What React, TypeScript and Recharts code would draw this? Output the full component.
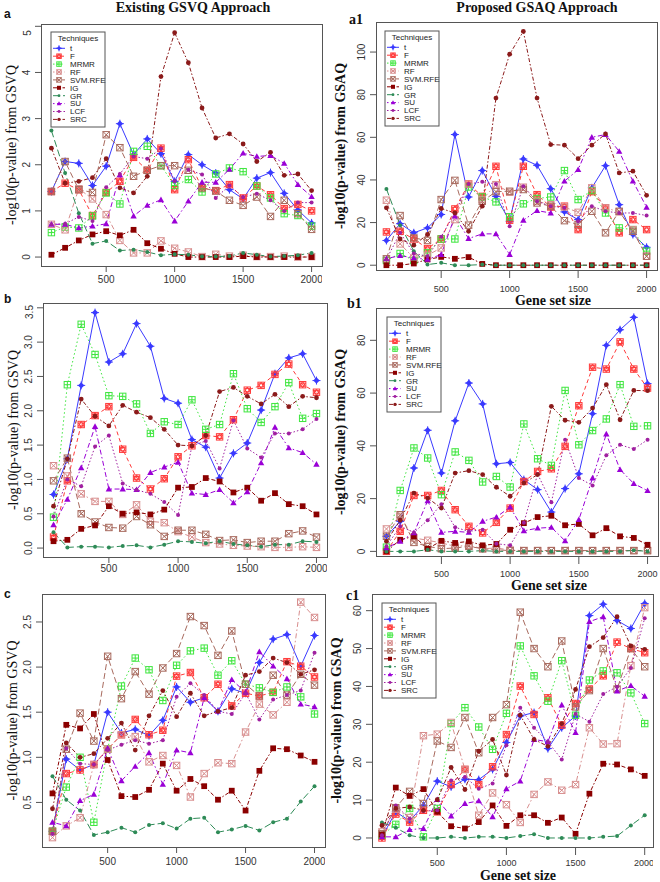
import React from 'react'
import { LineChart, Line, XAxis, YAxis } from 'recharts'

const sizes = [100, 200, 300, 400, 500, 600, 700, 800, 900, 1000, 1100, 1200, 1300, 1400, 1500, 1600, 1700, 1800, 1900, 2000]
const techniques = ['t', 'F', 'MRMR', 'RF', 'SVM_RFE', 'IG', 'GR', 'SU', 'LCF', 'SRC']
const techniqueNames = ['t', 'F', 'MRMR', 'RF', 'SVM.RFE', 'IG', 'GR', 'SU', 'LCF', 'SRC']
const xTicks = [500, 1000, 1500, 2000]

// a: existing GSVQ
const gsvqA: Record<string, number[]> = {
  t: [1.42, 2.07, 2.03, 1.55, 1.97, 2.89, 2.22, 2.56, 2.24, 1.64, 2.22, 2.0, 1.82, 1.46, 1.26, 1.71, 1.83, 1.38, 1.02, 0.74],
  F: [1.42, 1.6, 1.46, 0.9, 1.4, 1.64, 2.16, 1.88, 2.36, 1.46, 2.11, 1.5, 1.44, 1.57, 1.28, 1.54, 1.35, 1.05, 1.14, 1.0],
  MRMR: [0.53, 0.65, 0.63, 0.89, 1.39, 1.15, 2.29, 2.4, 1.98, 1.55, 1.68, 1.41, 1.8, 1.93, 1.85, 1.54, 1.28, 0.94, 0.9, 0.67],
  RF: [0.71, 0.59, 1.48, 1.26, 0.92, 0.36, 0.09, 0.09, 0.35, 0.19, 0.11, 0.01, 0.06, 0.02, 0.04, 0.01, 0.01, 0.02, 0.0, 0.01],
  SVM_RFE: [1.42, 2.07, 1.46, 1.4, 2.65, 2.37, 1.75, 1.88, 1.98, 1.98, 1.88, 1.5, 1.43, 1.23, 1.12, 1.3, 0.88, 1.23, 0.94, 0.6],
  IG: [0.05, 0.2, 0.36, 0.49, 0.56, 0.47, 0.59, 0.3, 0.18, 0.07, 0.0, 0.0, 0.0, 0.0, 0.02, 0.0, 0.0, 0.0, 0.0, 0.0],
  GR: [2.74, 1.82, 0.95, 0.29, 0.35, 0.14, 0.16, 0.11, 0.04, 0.06, 0.05, 0.01, 0.01, 0.02, 0.09, 0.05, 0.01, 0.02, 0.04, 0.09],
  SU: [0.71, 0.71, 0.63, 0.67, 0.72, 1.78, 0.89, 1.12, 1.24, 0.78, 1.21, 1.62, 1.62, 1.9, 2.25, 2.18, 2.2, 2.03, 1.57, 1.31],
  LCF: [0.71, 0.72, 0.87, 0.78, 1.51, 1.8, 2.18, 2.13, 2.35, 1.64, 1.89, 1.79, 1.28, 1.55, 1.3, 1.37, 1.23, 1.0, 1.18, 1.18],
  SRC: [2.36, 1.6, 1.64, 1.72, 2.13, 1.5, 1.39, 1.75, 3.91, 4.86, 4.21, 3.23, 2.58, 2.67, 2.45, 2.07, 2.27, 1.77, 1.8, 1.44],
}

// a1: proposed GSAQ
const gsaqA: Record<string, number[]> = {
  t: [11.6, 19.5, 15.2, 17.5, 23.8, 61.3, 32, 44.4, 32.3, 20.6, 49.8, 46.9, 35.9, 25, 21.4, 36.3, 46.7, 28.4, 14.4, 8.4],
  F: [15.6, 15.9, 12.3, 7.8, 12.3, 26.4, 38.1, 32.3, 46.4, 21.1, 46.4, 33.1, 27.3, 27.7, 16.7, 34.5, 26.9, 15.2, 21.4, 16.7],
  MRMR: [2.2, 5.5, 2.2, 5.8, 12.3, 12.3, 36.7, 32, 29.7, 22.7, 28.8, 31.3, 32, 44.4, 30.8, 35, 24.5, 17.5, 16.7, 6.6],
  RF: [30.5, 10, 3.4, 4.7, 8.1, 21.4, 38.1, 30.8, 37.8, 34.2, 36.6, 30, 28.4, 27.3, 24.8, 36.3, 26.9, 25, 16.7, 4.2],
  SVM_RFE: [3, 23.3, 12.8, 11.6, 30.8, 39.8, 18.8, 30, 34.5, 34.7, 35.5, 29.2, 27.7, 20.9, 19.1, 25.3, 15.2, 25.3, 15.9, 4.2],
  IG: [0, 0, 0.8, 2.7, 3.9, 3.0, 3.8, 0.6, 0, 0, 0, 0, 0, 0, 0, 0, 0, 0, 0, 0],
  GR: [35.8, 18.8, 6.6, 0.3, 1.1, 0, 0, 0.3, 0, 0, 0, 0, 0, 0, 0, 0, 0, 0, 0, 0],
  SU: [3.1, 4.5, 3.4, 2.7, 5, 23, 12.5, 14.7, 14.7, 5, 21.1, 25.6, 24.5, 39.4, 44.8, 60, 61.3, 53.4, 39.4, 27.2],
  LCF: [2.7, 15.2, 5.5, 4.2, 13.3, 24.5, 38.1, 39.1, 38.1, 18.3, 37, 30, 27.7, 26.9, 20.6, 27.7, 25.3, 24.5, 24.5, 23.3],
  SRC: [26.9, 12.3, 9.4, 14.4, 26.6, 24.5, 15.9, 27.7, 78.4, 99, 109.7, 78.4, 56.6, 56.3, 50, 56.3, 61.6, 43.3, 44.1, 32.8],
}

// b: existing GSVQ
const gsvqB: Record<string, number[]> = {
  t: [0.78, 1.3, 2.37, 3.43, 2.71, 2.83, 3.27, 2.94, 2.18, 2.11, 1.58, 1.47, 1.02, 1.38, 1.53, 2.01, 2.54, 2.77, 2.83, 2.44],
  F: [0.16, 0.98, 1.8, 1.93, 2.06, 1.44, 1.02, 0.86, 1.01, 1.33, 1.49, 1.64, 1.62, 1.87, 2.3, 2.37, 2.53, 2.68, 2.38, 2.27],
  MRMR: [0.45, 2.38, 3.26, 2.82, 2.22, 2.21, 2.1, 1.67, 1.84, 1.8, 2.16, 1.73, 1.8, 2.54, 2.03, 1.83, 2.06, 2.41, 1.89, 1.96],
  RF: [1.2, 1.05, 0.79, 0.68, 0.68, 0.49, 0.63, 0.39, 0.37, 0.24, 0.16, 0.08, 0.06, 0.04, 0.03, 0.02, 0.01, 0.01, 0.02, 0.01],
  SVM_RFE: [0.98, 1.31, 0.5, 0.38, 0.3, 0.29, 0.46, 0.34, 0.17, 0.26, 0.26, 0.2, 0.11, 0.12, 0.08, 0.1, 0.1, 0.21, 0.25, 0.16],
  IG: [0.1, 0.12, 0.28, 0.33, 0.61, 0.5, 0.52, 0.49, 0.56, 0.88, 0.89, 1.02, 0.97, 0.81, 0.88, 0.69, 0.8, 0.64, 0.61, 0.49],
  GR: [0.23, 0.01, 0.02, 0.02, 0.01, 0.03, 0.04, 0.01, 0.05, 0.1, 0.09, 0.07, 0.1, 0.06, 0.04, 0.02, 0.05, 0.05, 0.1, 0.09],
  SU: [0.34, 0.71, 1.17, 1.77, 0.86, 0.86, 0.85, 1.1, 1.18, 1.25, 0.8, 0.78, 0.85, 0.66, 0.82, 1.24, 1.76, 1.46, 1.39, 1.22],
  LCF: [0.46, 1.0, 0.9, 1.48, 1.64, 0.94, 0.85, 0.79, 0.67, 0.48, 1.49, 1.56, 1.16, 1.86, 1.45, 1.32, 1.67, 1.67, 1.73, 1.88],
  SRC: [0.61, 1.3, 2.17, 1.92, 1.78, 2.08, 1.98, 1.9, 1.73, 1.5, 1.49, 1.64, 2.28, 2.34, 2.21, 2.1, 2.24, 2.06, 2.21, 2.19],
}

// b1: proposed GSAQ
const gsaqB: Record<string, number[]> = {
  t: [5.7, 11.4, 31.6, 45.9, 29.7, 49.5, 63.8, 55.9, 33.2, 33.7, 27.2, 23.4, 14.9, 23.8, 29.4, 52.2, 78.1, 84, 88.7, 63.6],
  F: [0, 7.6, 21.2, 21.2, 23.1, 15.8, 9.5, 7, 11, 16.4, 26.5, 30.3, 31.3, 39.8, 55.2, 69.8, 69.1, 79.4, 69.1, 61.9],
  MRMR: [1.6, 23.1, 39.2, 35.4, 21.5, 37.7, 34.5, 26.3, 28.4, 24.4, 48.3, 35.1, 32.6, 61, 40.4, 45.8, 50.2, 63.2, 47.4, 47.6],
  RF: [8.5, 13.3, 5.1, 4.2, 3.2, 1.9, 2.3, 1, 1.3, 0.5, 0.3, 0.3, 0.3, 0.3, 0.3, 0.3, 0.3, 0.3, 0.3, 0.3],
  SVM_RFE: [5.7, 13.9, 3.4, 1.9, 1, 1.3, 1.9, 1, 0.6, 0.3, 0.3, 0.3, 0.3, 0.3, 0.3, 0.3, 0.3, 0.3, 0.3, 0.3],
  IG: [0, 4.4, 5.7, 1, 4, 3.2, 3.8, 2.3, 2.8, 8.2, 10.7, 13, 13.5, 9.9, 10.4, 6.1, 8.8, 5.7, 5.1, 2.5],
  GR: [0, 0, 0, 0.6, 0, 0, 0, 0.3, 0, 0, 0, 0, 0, 0, 0, 0, 0, 0, 0.4, 0],
  SU: [1.3, 3.8, 7, 19.2, 7.2, 7.6, 7.2, 11.4, 13, 16.8, 7.8, 8.8, 9.1, 4, 12, 27.8, 44.5, 31, 25.7, 23],
  LCF: [1.9, 9.5, 7.2, 11.8, 17.9, 9.1, 7.6, 8.2, 2.9, 2.3, 10.9, 29.3, 18.6, 42.3, 27.8, 25, 36.4, 40.4, 38.8, 42.3],
  SRC: [3.8, 11.8, 22.1, 20.2, 16.4, 29.7, 30.6, 29.1, 24.3, 20.9, 25.9, 29.1, 55, 49.7, 48.9, 54.3, 63.2, 49.9, 61, 60.9],
}

// c: existing GSVQ
const gsvqC: Record<string, number[]> = {
  t: [0.18, 0.98, 0.86, 0.92, 1.5, 1.27, 1.31, 1.24, 1.41, 1.78, 1.61, 1.66, 1.51, 1.76, 1.71, 2.05, 2.31, 2.36, 2.01, 2.35],
  F: [0.18, 0.82, 0.86, 0.92, 1.09, 1.25, 1.42, 1.25, 1.3, 1.9, 1.94, 1.66, 1.81, 1.57, 1.71, 1.68, 1.72, 2.06, 2.01, 1.89],
  MRMR: [0.18, 0.67, 1.0, 0.28, 1.09, 1.79, 2.1, 1.97, 1.63, 2.02, 2.18, 2.21, 1.91, 2.07, 1.81, 1.77, 1.72, 1.78, 1.67, 1.48],
  RF: [0.11, 0.24, 0.33, 0.92, 1.09, 1.25, 1.23, 0.95, 1.02, 0.91, 0.56, 0.82, 0.94, 0.93, 1.28, 1.59, 1.47, 1.61, 2.72, 2.55],
  SVM_RFE: [0.18, 1.09, 1.49, 1.18, 2.12, 1.65, 1.95, 1.7, 1.99, 2.15, 2.56, 2.46, 2.13, 2.4, 1.81, 1.68, 1.91, 1.69, 1.92, 1.8],
  IG: [0.6, 1.36, 1.32, 1.48, 0.97, 0.57, 0.56, 0.64, 0.93, 0.63, 0.76, 0.68, 0.53, 0.63, 0.41, 0.85, 1.1, 1.09, 1.02, 0.95],
  GR: [0.79, 0.53, 0.41, 0.14, 0.17, 0.22, 0.17, 0.25, 0.27, 0.21, 0.32, 0.33, 0.17, 0.2, 0.24, 0.19, 0.28, 0.32, 0.51, 0.68],
  SU: [0.28, 0.24, 0.52, 0.59, 1.1, 0.74, 0.9, 1.05, 0.7, 1.08, 1.05, 1.66, 1.51, 1.86, 1.72, 2.17, 2.01, 1.87, 1.59, 1.56],
  LCF: [0.15, 1.1, 0.93, 0.92, 1.08, 1.14, 1.19, 1.15, 1.19, 1.67, 1.82, 1.69, 1.51, 1.48, 1.71, 1.42, 1.64, 1.69, 1.74, 2.16],
  SRC: [0.43, 1.16, 1.0, 1.04, 1.21, 1.38, 1.08, 1.46, 1.74, 1.45, 1.71, 1.46, 1.51, 1.55, 1.91, 1.95, 2.1, 2.05, 1.92, 1.97],
}

// c1: proposed GSAQ
const gsaqC: Record<string, number[]> = {
  t: [0.3, 6.9, 4.5, 8.6, 15, 13.5, 15.5, 15.4, 18.1, 25.2, 32.2, 33.1, 23.6, 29.1, 32.2, 58.7, 61.7, 57.4, 55.3, 61.9],
  F: [0, 6.3, 4.2, 7.3, 6.9, 14.1, 18.1, 14.1, 18.8, 27.3, 40.1, 32.6, 37, 29.8, 35.5, 39.3, 42.8, 51.7, 50, 48.9],
  MRMR: [0.7, 3.6, 7.8, 0.3, 7.8, 30.2, 34.4, 29.3, 23.4, 32.9, 50.7, 42.8, 36.1, 46.8, 32.4, 41.7, 44.1, 43.6, 38.3, 30.2],
  RF: [1.6, 7.6, 5.4, 27, 27.4, 30.5, 18.1, 6, 11.9, 8.8, 4.1, 11.5, 14.8, 12.6, 14.1, 29.1, 24.8, 24.9, 45.5, 60.8],
  SVM_RFE: [1.1, 8, 12.3, 9.1, 25.6, 23.9, 31.8, 22.5, 31.8, 35.2, 59.6, 50, 45.2, 52, 34.6, 38.9, 50, 39.3, 50, 45.2],
  IG: [0.9, 13.3, 11.1, 12.9, 6.9, 3.1, 2.5, 4.2, 8.6, 3.2, 6, 6, 4, 5.4, 1.1, 11.7, 19.6, 19.4, 18.1, 16.4],
  GR: [4.1, 2.7, 0.7, 0, 0, 0.3, 0, 0.3, 0.3, 0, 0.5, 1, 0, 0, 0, 0, 0.3, 0.5, 3.3, 6],
  SU: [0.3, 0.3, 2.2, 2.5, 10.1, 5.8, 9.1, 9.8, 5.6, 13, 15, 26, 25.4, 35.1, 27.8, 57.1, 58.4, 38.8, 40.2, 37.4],
  LCF: [0.7, 8.6, 5.1, 7.1, 7.3, 15.2, 16.1, 13, 14.4, 24.5, 34.4, 29.1, 25.4, 20.7, 32.7, 30.7, 38, 39.9, 44.9, 58],
  SRC: [3.3, 7.8, 8.2, 7.3, 10.1, 18.6, 12.8, 22.9, 26, 16.6, 32.4, 26, 24.2, 30.2, 39.2, 50.5, 52.9, 58.4, 50.7, 49.8],
}

const serif = '"Liberation Serif", "DejaVu Serif", serif'
const sans = '"Liberation Sans", Arial, sans-serif'

const look: Record<string, { color: string; dash?: string; mark: string }> = {
  t: { color: '#3a3aff', mark: 'plus' },
  F: { color: '#ff3a3a', dash: '4 3', mark: 'star' },
  MRMR: { color: '#3ee63e', dash: '1.5 2.5', mark: 'sqplus' },
  RF: { color: '#d88e8e', dash: '1.5 2.5 5 2.5', mark: 'sqx' },
  SVM_RFE: { color: '#a86a5e', dash: '6 3', mark: 'sqx' },
  IG: { color: '#8b0000', dash: '4 2 1.5 2', mark: 'square' },
  GR: { color: '#2e8b57', dash: '7 3', mark: 'dot' },
  SU: { color: '#9a00d6', dash: '1.5 2.5 5 2.5', mark: 'tri' },
  LCF: { color: '#a020a0', dash: '1.5 2', mark: 'dot' },
  SRC: { color: '#8b1a1a', dash: '4 2 1.5 2', mark: 'circle' },
}

function Mark({ x, y, k, s = 1 }: { x: number; y: number; k: string; s?: number }) {
  const c = look[k].color
  const r = 3.2 * s
  switch (look[k].mark) {
    case 'plus':
      return (
        <g>
          <polygon points={`${x},${y - r} ${x + r},${y} ${x},${y + r} ${x - r},${y}`} fill={c} />
          <path d={`M${x - r - 0.8},${y}H${x + r + 0.8}M${x},${y - r - 0.8}V${y + r + 0.8}`} stroke={c} strokeWidth={1} />
        </g>
      )
    case 'star':
      return (
        <g fill="none" stroke={c} strokeWidth={1}>
          <rect x={x - r} y={y - r} width={2 * r} height={2 * r} />
          <path d={`M${x},${y - r}L${x + r * 0.87},${y + r * 0.5}L${x - r * 0.87},${y + r * 0.5}ZM${x},${y + r}L${x + r * 0.87},${y - r * 0.5}L${x - r * 0.87},${y - r * 0.5}Z`} />
        </g>
      )
    case 'sqplus':
      return (
        <g fill="none" stroke={c} strokeWidth={1}>
          <rect x={x - r} y={y - r} width={2 * r} height={2 * r} />
          <path d={`M${x - r},${y}H${x + r}M${x},${y - r}V${y + r}`} />
        </g>
      )
    case 'sqx':
      return (
        <g fill="none" stroke={c} strokeWidth={1}>
          <rect x={x - r} y={y - r} width={2 * r} height={2 * r} />
          <path d={`M${x - r},${y - r}L${x + r},${y + r}M${x + r},${y - r}L${x - r},${y + r}`} />
        </g>
      )
    case 'square':
      return <rect x={x - r * 0.9} y={y - r * 0.9} width={1.8 * r} height={1.8 * r} fill={c} />
    case 'tri':
      return <polygon points={`${x},${y - r} ${x + r},${y + r * 0.75} ${x - r},${y + r * 0.75}`} fill={c} />
    case 'circle':
      return <circle cx={x} cy={y} r={2.4 * s} fill={c} />
    default:
      return <circle cx={x} cy={y} r={2 * s} fill={c} />
  }
}

interface Panel {
  id: string
  values: Record<string, number[]>
  left: number
  top: number
  w: number
  h: number
  xDomain: [number, number]
  yDomain: [number, number]
  yTicks: number[]
  digits: number
  yLabel: string
  bold: boolean
  tickGap: number
  legend?: [number, number]
}

const panels: Panel[] = [
  { id: 'a', values: gsvqA, left: 41, top: 24, w: 281, h: 242, xDomain: [24, 2076], yDomain: [-0.194, 5.05], yTicks: [0, 1, 2, 3, 4, 5], digits: 0, yLabel: '-log10(p-value) from GSVQ', bold: false, tickGap: 4, legend: [51, 32] },
  { id: 'a1', values: gsaqA, left: 376, top: 22, w: 281, h: 248, xDomain: [24, 2076], yDomain: [-2.25, 114.1], yTicks: [0, 20, 40, 60, 80, 100], digits: 0, yLabel: '-log10(p-value) from GSAQ', bold: true, tickGap: 8, legend: [385, 31] },
  { id: 'b', values: gsvqB, left: 43, top: 303, w: 284, h: 254, xDomain: [24, 2076], yDomain: [-0.13, 3.57], yTicks: [0, 0.5, 1, 1.5, 2, 2.5, 3, 3.5], digits: 1, yLabel: '-log10(p-value) from GSVQ', bold: false, tickGap: 2 },
  { id: 'b1', values: gsaqB, left: 376, top: 308, w: 282, h: 248, xDomain: [24, 2076], yDomain: [-1.75, 92.25], yTicks: [0, 20, 40, 60, 80], digits: 0, yLabel: '-log10(p-value) from GSAQ', bold: true, tickGap: 7, legend: [387, 317] },
  { id: 'c', values: gsvqC, left: 42, top: 594, w: 283, h: 253, xDomain: [24, 2076], yDomain: [0.006, 2.81], yTicks: [0.5, 1, 1.5, 2, 2.5], digits: 1, yLabel: '-log10(p-value) from GSVQ', bold: false, tickGap: 5 },
  { id: 'c1', values: gsaqC, left: 372, top: 594, w: 281, h: 253, xDomain: [28, 2060], yDomain: [-2.38, 64.4], yTicks: [0, 10, 20, 30, 40, 50, 60], digits: 0, yLabel: '-log10(p-value) from GSAQ', bold: true, tickGap: 5, legend: [382, 603] },
]

const AXW = 40
const AXH = 30

function PanelChart({ p }: { p: Panel }) {
  const data = sizes.map((size, i) => {
    const row: Record<string, number> = { size }
    techniques.forEach((k) => (row[k] = p.values[k][i]))
    return row
  })
  const YTick = (props: any) => {
    const { x, y, payload } = props
    const bx = x - 2.5
    return (
      <text x={bx} y={y} transform={`rotate(-90 ${bx} ${y})`} textAnchor="middle" fontSize={10} fill="#333" fontFamily={sans}>
        {Number(payload.value).toFixed(p.digits)}
      </text>
    )
  }
  return (
    <div style={{ position: 'absolute', left: p.left - AXW, top: p.top }}>
      <LineChart width={p.w + AXW} height={p.h + AXH} data={data} margin={{ top: 0, right: 0, bottom: 0, left: 0 }}>
        <XAxis
          type="number"
          dataKey="size"
          domain={p.xDomain}
          ticks={xTicks}
          height={AXH}
          axisLine={false}
          tickLine={{ stroke: '#555' }}
          tickSize={p.bold ? 8 : 6}
          tickMargin={p.tickGap}
          tick={{ fontSize: p.bold ? 9 : 10, fill: '#333', fontFamily: sans }}
        />
        <YAxis
          type="number"
          domain={p.yDomain}
          ticks={p.yTicks}
          width={AXW}
          axisLine={false}
          tickLine={{ stroke: '#555' }}
          tickSize={6}
          tickMargin={2}
          tick={YTick}
        />
        {techniques.map((k) => (
          <Line
            key={k}
            dataKey={k}
            type="linear"
            stroke={look[k].color}
            strokeWidth={1}
            strokeDasharray={look[k].dash}
            isAnimationActive={false}
            activeDot={false}
            dot={(d: any) => <Mark key={`${p.id}-${k}-${d.index}`} x={d.cx} y={d.cy} k={k} />}
          />
        ))}
      </LineChart>
    </div>
  )
}

function LegendBox({ x, y }: { x: number; y: number }) {
  return (
    <g transform={`translate(${x},${y})`}>
      <rect x={0} y={0} width={54} height={95} fill="#fff" stroke="#555" strokeWidth={1} />
      <text x={27} y={9} fontSize={8} textAnchor="middle" fontFamily={sans} fill="#222">Techniques</text>
      {techniques.map((k, i) => {
        const yy = 16.3 + i * 7.9
        return (
          <g key={k}>
            <line x1={2} x2={14} y1={yy} y2={yy} stroke={look[k].color} strokeDasharray={look[k].dash} />
            <Mark x={8} y={yy} k={k} s={0.7} />
            <text x={19} y={yy + 2.8} fontSize={8} fontFamily={sans} fill="#222">{techniqueNames[i]}</text>
          </g>
        )
      })}
    </g>
  )
}

export default function App() {
  return (
    <div style={{ position: 'absolute', left: 0, top: 0, width: 660, height: 882, background: '#fff', overflow: 'hidden' }}>
      {panels.map((p) => (
        <PanelChart key={p.id} p={p} />
      ))}
      <svg width={660} height={882} style={{ position: 'absolute', left: 0, top: 0, pointerEvents: 'none' }}>
        {panels.map((p) => {
          const cx = p.bold ? p.left - 36 : p.left - 30
          const cy = p.top + p.h / 2
          return (
            <g key={p.id}>
              <rect x={p.left + 0.5} y={p.top + 0.5} width={p.w} height={p.h} fill="none" stroke="#555" strokeWidth={1} />
              <text
                x={cx}
                y={cy}
                transform={`rotate(-90 ${cx} ${cy})`}
                textAnchor="middle"
                dominantBaseline="central"
                fontSize={14}
                fontWeight={p.bold ? 'bold' : 'normal'}
                fontFamily={serif}
                fill="#111"
              >
                {p.yLabel}
              </text>
              {p.legend && <LegendBox x={p.legend[0]} y={p.legend[1]} />}
            </g>
          )
        })}
        <text x={193} y={12} textAnchor="middle" fontSize={14} fontWeight="bold" fontFamily={serif} fill="#111">Existing GSVQ Approach</text>
        <text x={537} y={12} textAnchor="middle" fontSize={14} fontWeight="bold" fontFamily={serif} fill="#111">Proposed GSAQ Approach</text>
        <text x={553} y={305} textAnchor="middle" fontSize={14} fontWeight="bold" fontFamily={serif} fill="#111">Gene set size</text>
        <text x={549} y={590} textAnchor="middle" fontSize={14} fontWeight="bold" fontFamily={serif} fill="#111">Gene set size</text>
        <text x={518} y={880} textAnchor="middle" fontSize={14} fontWeight="bold" fontFamily={serif} fill="#111">Gene set size</text>
        <text x={4} y={18} fontSize={12} fontWeight="bold" fontFamily={sans} fill="#111">a</text>
        <text x={4} y={303} fontSize={12} fontWeight="bold" fontFamily={sans} fill="#111">b</text>
        <text x={4} y={598} fontSize={12} fontWeight="bold" fontFamily={sans} fill="#111">c</text>
        <text x={349} y={24} fontSize={14} fontWeight="bold" fontFamily={serif} fill="#111">a1</text>
        <text x={347} y={308} fontSize={14} fontWeight="bold" fontFamily={serif} fill="#111">b1</text>
        <text x={346} y={600} fontSize={14} fontWeight="bold" fontFamily={serif} fill="#111">c1</text>
      </svg>
    </div>
  )
}
